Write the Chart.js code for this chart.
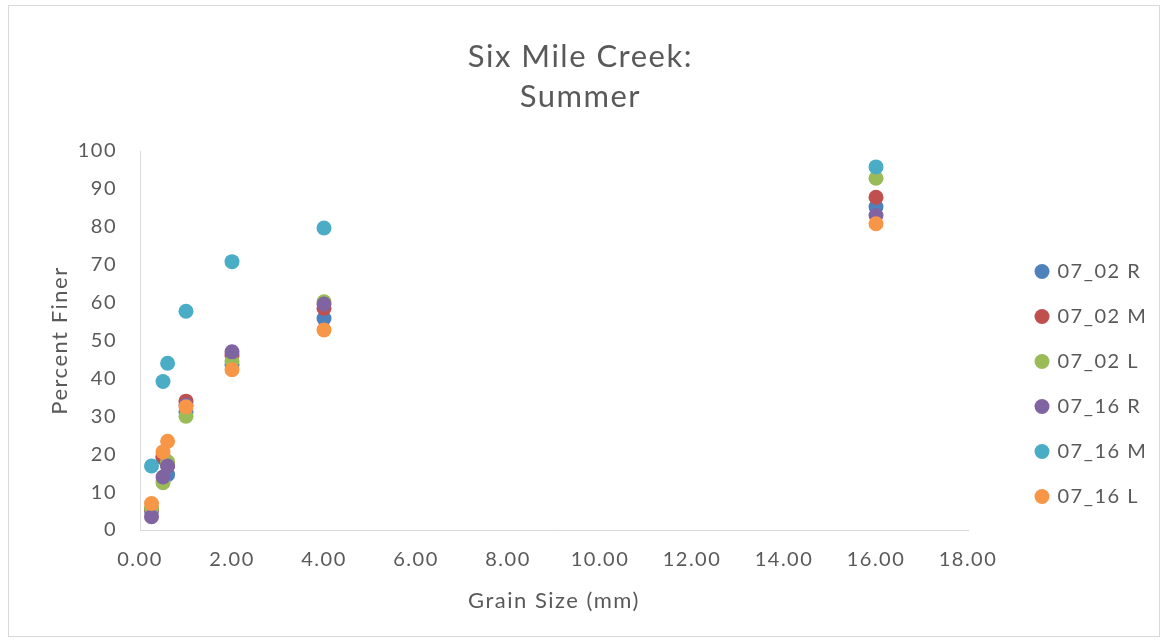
<!DOCTYPE html>
<html>
<head>
<meta charset="utf-8">
<script src="https://cdn.jsdelivr.net/npm/chart.js@4"></script>
<style>
  html, body { margin: 0; padding: 0; background: #fff; }
  #wrap { position: absolute; left: 8px; top: 5px; width: 1152px; height: 632px; border: 1px solid #d9d9d9; box-sizing: border-box; }
  #c { position: absolute; left: 0; top: 0; }
</style>
</head>
<body>
<div id="wrap"></div>
<canvas id="c" width="1170" height="643"></canvas>
<script>
// grain sizes (mm)
const grainSizes = [0.25, 0.5, 0.6, 1, 2, 4, 16];

const seriesNames = ["07_02 R", "07_02 M", "07_02 L", "07_16 R", "07_16 M", "07_16 L"];
const colors = ["#4F81BD", "#C0504D", "#9BBB59", "#8064A2", "#4BACC6", "#F79646"];

// percent finer
const r0702 = [5.0, 19.0, 14.6, 31.0, 43.6, 55.8, 85.3];
const m0702 = [5.5, 19.4, 17.0, 34.0, 46.0, 58.5, 87.8];
const l0702 = [5.8, 12.5, 18.0, 30.0, 44.6, 60.2, 92.8];
const r0716 = [3.5, 14.0, 16.9, 33.0, 47.0, 59.6, 83.0];
const m0716 = [16.9, 39.2, 44.0, 57.7, 70.8, 79.7, 95.8];
const l0716 = [7.0, 20.6, 23.4, 32.5, 42.3, 52.8, 80.8];

const allSeries = [r0702, m0702, l0702, r0716, m0716, l0716];

const font = "Lato, 'Open Sans', sans-serif";
const gray = "#595959";
const spacing = "1.5px";

// where things sit on the page
const plotRight = 968;
const legendLeft = 1011.5;
const legendTop = 236.5;

const datasets = allSeries.map((vals, i) => ({
  label: seriesNames[i],
  data: vals.map((v, j) => ({ x: grainSizes[j], y: v })),
  backgroundColor: colors[i],
  borderWidth: 0,
  pointRadius: 7.5,
  pointHoverRadius: 7.5,
  order: 5 - i,
}));

// wider text, like the excel export
const spacingPlugin = {
  id: "spacing",
  beforeUpdate(chart) { chart.ctx.letterSpacing = spacing; },
  beforeLayout(chart) { chart.ctx.letterSpacing = spacing; },
  beforeDraw(chart) { chart.ctx.letterSpacing = spacing; },
};

// put legend where excel has it
const legendPlugin = {
  id: "legendMove",
  afterLayout(chart) {
    const l = chart.legend;
    if (!l) return;
    const w = l.width, h = l.height;
    l.left = legendLeft; l.right = legendLeft + w;
    l.top = legendTop; l.bottom = legendTop + h;
  },
};

const ctx = document.getElementById("c").getContext("2d");
const chart = new Chart(ctx, {
  type: "scatter",
  data: { datasets: datasets },
  plugins: [spacingPlugin, legendPlugin],
  options: {
    responsive: false,
    animation: false,
    layout: { padding: { left: 47, right: 50, top: 37, bottom: 29 } },
    plugins: {
      title: {
        display: true,
        text: ["Six Mile Creek:", "Summer"],
        color: gray,
        font: { family: font, size: 31, weight: "normal", lineHeight: 40 / 31 },
        padding: { top: 0, bottom: 34 },
      },
      legend: {
        position: "right",
        align: "start",
        fullSize: false,
        labels: {
          usePointStyle: true,
          pointStyle: "circle",
          boxWidth: 11,
          boxHeight: 10.6,
          color: gray,
          padding: 25,
          font: { family: font, size: 20 },
          sort: (a, b) => a.datasetIndex - b.datasetIndex,
        },
      },
      tooltip: { enabled: false },
    },
    scales: {
      x: {
        type: "linear",
        min: 0,
        max: 18,
        afterFit: (s) => { s.height = 84; },
        ticks: {
          stepSize: 2,
          color: gray,
          font: { family: font, size: 20 },
          callback: (v) => v.toFixed(2),
          padding: 18,
        },
        grid: { display: false, drawTicks: false },
        border: { display: true, color: "#d9d9d9", width: 1 },
        title: { display: true, text: "Grain Size (mm)", color: gray, font: { family: font, size: 22 }, padding: 0 },
      },
      y: {
        type: "linear",
        min: 0,
        max: 100,
        afterFit: (s) => { s.width = 93; },
        ticks: {
          stepSize: 10,
          color: gray,
          font: { family: font, size: 20 },
          padding: 23,
        },
        grid: { display: false, drawTicks: false },
        border: { display: true, color: "#d9d9d9", width: 1 },
        title: { display: true, text: "Percent Finer", color: gray, font: { family: font, size: 22 }, padding: 0 },
      },
    },
  },
});

// second pass: size right padding so the plot ends at x = 18 like the reference
chart.options.layout.padding.right = Math.max(0, 1170 - plotRight - chart.legend.width);
chart.update();
</script>
</body>
</html>
